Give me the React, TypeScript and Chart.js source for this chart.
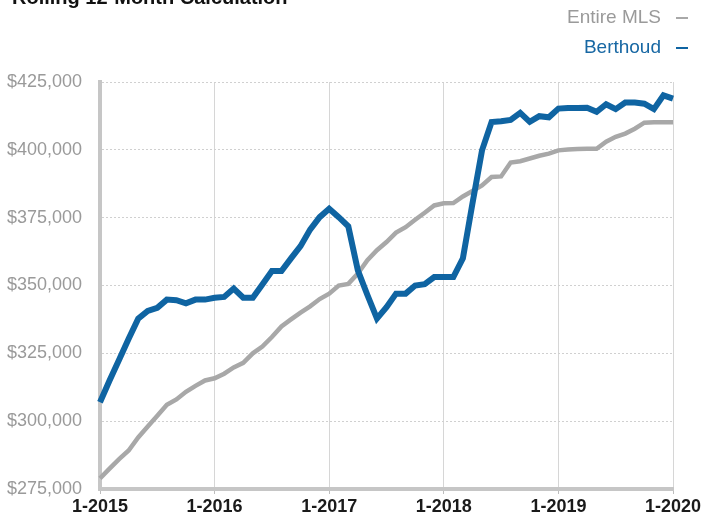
import React, { useEffect, useRef } from 'react';
import { Chart, registerables } from 'chart.js';

Chart.register(...registerables);

const START_YEAR = 2015;
const MONTH_COUNT = 61;
const categories: string[] = [];
for (let i = 0; i < MONTH_COUNT; i++) {
  categories.push(`${(i % 12) + 1}-${START_YEAR + Math.floor(i / 12)}`);
}

const titleText = 'Rolling 12-Month Calculation';
const seriesNames = ['Entire MLS', 'Berthoud'];

const entireMLS = [
  278900, 282500, 286000, 289200, 294000, 298000, 302000, 306000, 308000, 310800,
  313000, 315000, 315800, 317500, 319800, 321500, 325000, 327500, 331000, 334900,
  337500, 340000, 342300, 345000, 347000, 350000, 350600, 354400, 359300, 363000,
  366000, 369500, 371500, 374200, 376800, 379500, 380300, 380400, 382800, 384800,
  386900, 390000, 390200, 395300, 395800, 396800, 397800, 398600, 399800, 400100,
  400300, 400400, 400400, 403000, 404800, 406000, 407800, 410000, 410200, 410200,
  410200,
];

const berthoud = [
  307000, 315000, 322600, 330400, 337800, 340600, 341800, 344800, 344600, 343400,
  344800, 344800, 345500, 345800, 348900, 345500, 345500, 350400, 355300, 355300,
  360000, 364500, 370600, 375200, 378300, 375200, 371800, 355600, 346500, 337800,
  342000, 347000, 347000, 350000, 350500, 353100, 353100, 353100, 360000, 380200,
  399800, 410250, 410500, 411000, 413600, 410300, 412400, 412000, 415200, 415400,
  415400, 415500, 414000, 416800, 415000, 417400, 417400, 417000, 415000, 420100,
  418900,
];

const yTicks = [275000, 300000, 325000, 350000, 375000, 400000, 425000];

const GRAY = '#a8a8a8';
const BLUE = '#0f64a2';
const FONT = '"Liberation Sans", Arial, Helvetica, sans-serif';

const overlayPlugin = {
  id: 'overlay',
  afterDraw(chart: any) {
    const ctx = chart.ctx;
    ctx.save();
    ctx.font = `bold 20px ${FONT}`;
    ctx.fillStyle = '#111';
    ctx.textAlign = 'left';
    ctx.textBaseline = 'alphabetic';
    ctx.fillText(titleText, 12, 4);

    const rows = [
      { idx: 0, y: 18, text: '#9a9a9a' },
      { idx: 1, y: 48, text: '#1767a3' },
    ];
    ctx.font = `19px ${FONT}`;
    ctx.textAlign = 'right';
    ctx.textBaseline = 'middle';
    rows.forEach((r) => {
      const ds = chart.data.datasets[r.idx];
      ctx.fillStyle = r.text;
      ctx.fillText(ds.label, 661, r.y);
      ctx.strokeStyle = ds.borderColor;
      ctx.lineWidth = 2;
      ctx.beginPath();
      ctx.moveTo(676, r.y);
      ctx.lineTo(688, r.y);
      ctx.stroke();
    });
    ctx.restore();
  },
};

export default function App() {
  const ref = useRef<HTMLCanvasElement | null>(null);

  useEffect(() => {
    if (!ref.current) return;
    const chart = new Chart(ref.current, {
      type: 'line',
      data: {
        labels: categories,
        datasets: [
          {
            label: seriesNames[0],
            data: entireMLS,
            borderColor: GRAY,
            borderWidth: 4.5,
            pointRadius: 0,
            tension: 0,
            order: 1,
          },
          {
            label: seriesNames[1],
            data: berthoud,
            borderColor: BLUE,
            borderWidth: 6,
            pointRadius: 0,
            tension: 0,
            order: 0,
          },
        ],
      },
      options: {
        responsive: false,
        animation: false,
        layout: { padding: { top: 82, right: 31, bottom: 0, left: 0 } },
        plugins: {
          legend: { display: false },
          title: { display: false },
          tooltip: { enabled: false },
        },
        scales: {
          x: {
            type: 'category',
            offset: false,
            afterFit: (s: any) => {
              s.height = 32;
            },
            grid: {
              color: (c: any) => (c.index % 12 === 0 ? '#d6d6d6' : 'transparent'),
              tickColor: (c: any) => (c.index % 12 === 0 ? '#bdbdbd' : 'transparent'),
              tickLength: 5,
              lineWidth: 1,
            },
            border: { display: true, color: '#c6c6c6', width: 4 },
            ticks: {
              autoSkip: false,
              maxRotation: 0,
              padding: 2,
              color: '#1a1a1a',
              font: { family: FONT, size: 18, weight: 'bold' },
              callback: (_v: any, i: number) =>
                i % 12 === 0 ? `1-${START_YEAR + i / 12}` : '',
            },
          },
          y: {
            min: yTicks[0],
            max: yTicks[yTicks.length - 1],
            afterFit: (s: any) => {
              s.width = 100;
            },
            afterBuildTicks: (s: any) => {
              s.ticks = yTicks.map((v) => ({ value: v }));
            },
            grid: { color: '#d0d0d0', lineWidth: 1, drawTicks: false },
            border: { display: true, color: '#c6c6c6', width: 4, dash: [2, 2] },
            ticks: {
              padding: 18,
              color: '#9a9a9a',
              font: { family: FONT, size: 18 },
              callback: (v: any) => '$' + Number(v).toLocaleString('en-US'),
            },
          },
        },
      },
      plugins: [overlayPlugin],
    } as any);
    return () => chart.destroy();
  }, []);

  return (
    <div style={{ position: 'fixed', left: 0, top: 0, width: 704, height: 521, background: '#fff' }}>
      <canvas ref={ref} width={704} height={521} style={{ display: 'block' }} />
    </div>
  );
}
